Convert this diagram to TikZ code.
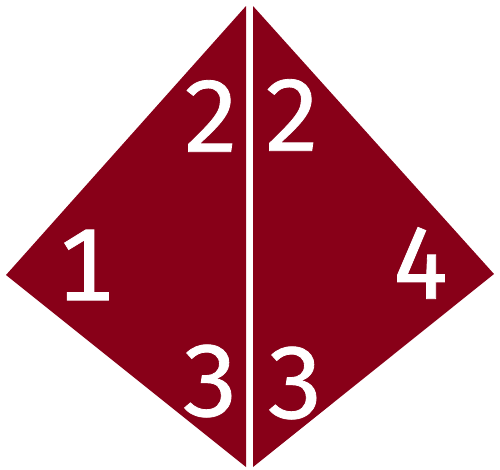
\documentclass[tikz,border=0pt]{standalone}
\usepackage{fontspec}
\setmainfont[Numbers=Monospaced]{Fira Sans}
\usetikzlibrary{positioning}
\definecolor{wine}{RGB}{136,0,24}
\tikzset{
  face/.style={fill=wine, draw=none},
  num/.style={text=white, inner sep=0pt, font=\fontsize{58}{58}\selectfont\addfontfeature{FakeBold=0.8}},
}
\begin{document}
\begin{tikzpicture}[x=0.2mm,y=-0.2mm]
\useasboundingbox (0,0) rectangle (500,469);
% left and right halves
\fill[face] (6,275) -- (246,6) -- (246,467) -- cycle;
\fill[face] (253,6) -- (494,274) -- (253,467) -- cycle;
\node[num] (l1) at (85,265) {1};
\node[num] (l2) at (211,116) {2};
\node[num] (l3) at (210,381) {3};
\node[num] (r2) at (292,115) {2};
\node[num] (r3) at (295,383) {3};
\node[num] (r4) at (421,263) {4};
\end{tikzpicture}
\end{document}
